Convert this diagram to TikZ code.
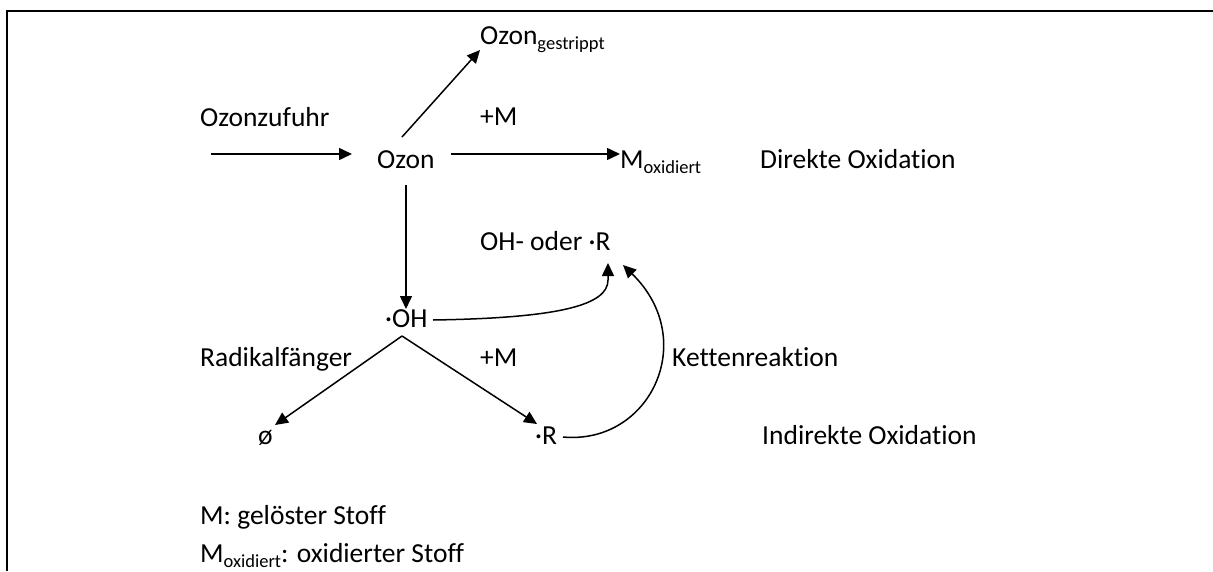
\documentclass[tikz,border=0pt]{standalone}
\usepackage{fontspec}
\setmainfont[Ligatures=NoCommon]{Carlito}
\usetikzlibrary{arrows.meta,calc}
\newcommand{\lowtxt}[1]{\raisebox{-5.5pt}{\fontsize{18.5pt}{18.5pt}\selectfont #1}}
\begin{document}
\begin{tikzpicture}[x=1pt,y=-1pt,
  lbl/.style={anchor=base west,inner sep=0pt,font=\fontsize{27.5pt}{33pt}\selectfont},
  arr/.style={line width=1.5pt,-{Triangle[length=13pt,width=12pt]}},
  framebar/.style={line width=2.3pt}]
\useasboundingbox (0,0) rectangle (1213,571);
% frame
\draw[framebar] (7,571) -- (7,11) -- (1213,11);
% texts
\node[lbl] (zufuhr) at (200,126) {Ozonzufuhr};
\node[lbl] (ozon) at (377,168) {Ozon};
\node[lbl] (gest) at (480,44) {Ozon\lowtxt{gestrippt}};
\node[lbl] (plusMa) at (480,125) {+M};
\node[lbl] (mox) at (620,168) {M\lowtxt{oxidiert}};
\node[lbl] (direkt) at (760,168) {Direkte Oxidation};
\node[lbl] (oderR) at (480,250) {OH- oder ·R};
\node[lbl] (oh) at (385,327) {·OH};
\node[lbl] (radikal) at (200,366) {Radikalfänger};
\node[lbl] (plusMb) at (480,366) {+M};
\node[lbl] (kette) at (672,366) {Kettenreaktion};
\node[lbl] (leer) at (258,444) {ø};
\node[lbl] (R) at (535,444) {·R};
\node[lbl] (indirekt) at (762,444) {Indirekte Oxidation};
\node[lbl] (leg1) at (200,524) {M: gelöster Stoff};
\node[lbl] (leg2) at (200,562) {M\lowtxt{oxidiert}: oxidierter Stoff};
% connectors
\coordinate (feed) at (211,154);
\draw[arr] (feed) -- ($(ozon.base west)+(-25,-14)$);
\draw[arr] ($(ozon.base west)+(25,-31)$) -- ($(gest.base west)+(0,6)$);
\draw[arr] ($(ozon.base west)+(74,-14)$) -- ($(mox.base west)+(0,-14)$);
\draw[arr] ($(ozon.base west)+(29,17)$) -- ($(oh.base west)+(21,-18)$);
\draw[arr] ($(oh.base west)+(48,-7)$) .. controls +(127,-2) and +(0,25) .. ($(oderR.base west)+(128,30)$) -- ($(oderR.base west)+(128,13)$);
\draw[arr] ($(oh.base west)+(17,9)$) -- ($(leer.base west)+(17,-19)$);
\draw[arr] ($(oh.base west)+(17,9)$) -- ($(R.base west)+(2,-20)$);
\draw[arr] ($(R.base west)+(28,-7)$) .. controls +(87,8) and +(77,75) .. ($(oderR.base west)+(143,15)$);
\end{tikzpicture}
\end{document}
